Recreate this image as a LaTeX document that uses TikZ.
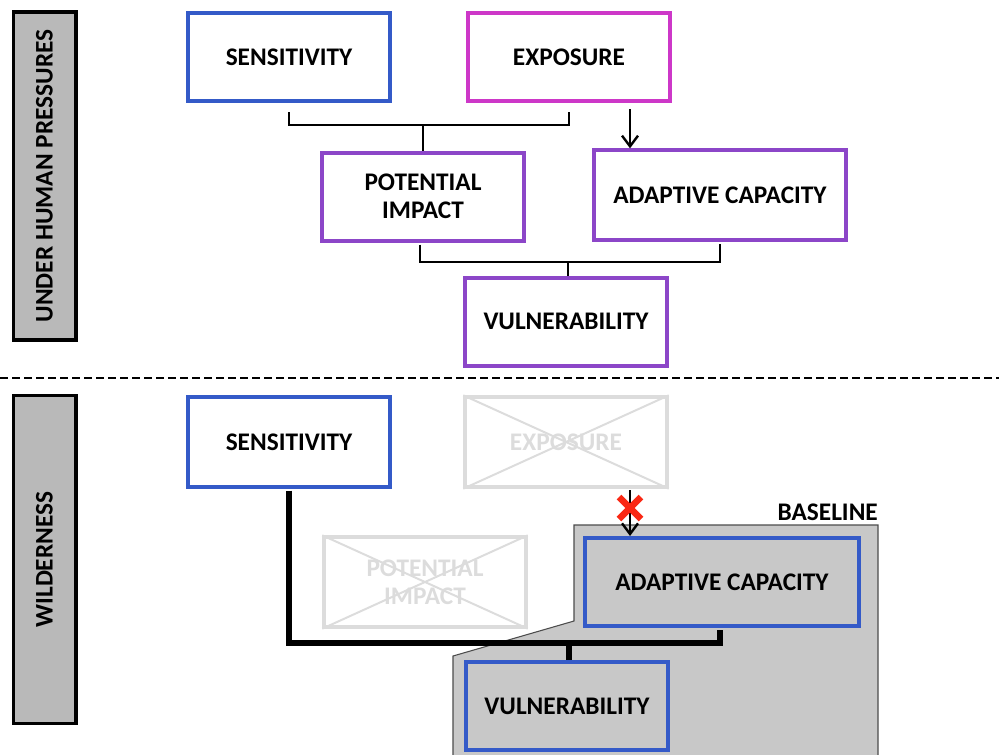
\documentclass[tikz,border=0pt]{standalone}
\usepackage{fontspec}
\setmainfont{Carlito}
\usetikzlibrary{arrows.meta,calc}
\definecolor{cblue}{RGB}{52,90,200}
\definecolor{cmag}{RGB}{205,55,200}
\definecolor{cpurp}{RGB}{140,70,200}
\definecolor{cghost}{RGB}{220,220,220}
\definecolor{cgray}{RGB}{200,200,200}
\definecolor{clab}{RGB}{185,185,185}
\definecolor{cred}{RGB}{250,40,20}
\tikzset{
  txt/.style={font=\bfseries\fontsize{19}{21}\selectfont},
  box/.style={draw, line width=3pt, rectangle, align=center, txt, inner sep=0pt},
  ghost/.style={box, draw=cghost, text=cghost},
  labbox/.style={draw=black, line width=2.5pt, fill=clab, rectangle, inner sep=0pt},
  thin/.style={line width=1.5pt, black},
  thickline/.style={line width=4pt, black},
  arr/.style={-{Straight Barb[length=8pt,width=12pt,line width=1.8pt]}, line width=1.8pt},
}
\begin{document}
\begin{tikzpicture}[x=0.75pt,y=-0.75pt]
\useasboundingbox (0,0) rectangle (999,754);
% gray baseline region
\path[fill=cgray, draw=black!70, line width=0.8pt] (574,525) -- (878,525) -- (878,756) -- (453,756) -- (453,656) -- (574,621) -- cycle;
% side labels
\node[labbox, minimum width=47pt, minimum height=246pt] (lab1) at (44.5,176) {};
\node[rotate=90, txt] (lab1t) at (lab1) {UNDER HUMAN PRESSURES};
\node[labbox, minimum width=47pt, minimum height=246pt] (lab2) at (44.5,559.5) {};
\node[rotate=90, txt] (lab2t) at (lab2) {WILDERNESS};
% top part
\node[box, draw=cblue, minimum width=152pt, minimum height=66pt] (sens1) at (289,57) {SENSITIVITY};
\node[box, draw=cmag, minimum width=151pt, minimum height=66pt] (exp1) at (569,57) {EXPOSURE};
\node[box, draw=cpurp, minimum width=151pt, minimum height=66pt] (pi1) at (423,196.5) {POTENTIAL\\IMPACT};
\node[box, draw=cpurp, minimum width=189pt, minimum height=67pt] (ac1) at (720,195) {ADAPTIVE CAPACITY};
\node[box, draw=cpurp, minimum width=151pt, minimum height=66pt] (vul1) at (566,321.5) {VULNERABILITY};
\coordinate (j1) at (424,125);
\draw[thin] ($(sens1.south)+(0,9)$) |- (j1) -| ($(exp1.south)+(0,9)$);
\draw[thin] (j1) -- (pi1.north |- j1) -- (pi1.north);
\coordinate (a1) at ($(exp1.south)+(61,6)$);
\draw[arr] (a1) -- (a1 |- ac1.north);
\coordinate (j2) at (568,262);
\draw[thin] ($(pi1.south)+(-3,2)$) |- (j2) -| ($(ac1.south)+(0,2)$);
\draw[thin] (j2) -- (j2 |- vul1.north);
% dashed separator
\draw[line width=2pt, dash pattern=on 6pt off 3pt] (0,378) -- (999,378);
% bottom part
\node[box, draw=cblue, fill=white, minimum width=152pt, minimum height=67pt] (sens2) at (289,442) {SENSITIVITY};
\node[ghost, minimum width=151pt, minimum height=67pt] (exp2) at (566,442) {EXPOSURE};
\draw[cghost, line width=1.5pt] (exp2.north west) -- (exp2.south east) (exp2.south west) -- (exp2.north east);
\node[ghost, minimum width=151pt, minimum height=67pt] (pi2) at (425,582) {POTENTIAL\\IMPACT};
\draw[cghost, line width=1.5pt] (pi2.north west) -- (pi2.south east) (pi2.south west) -- (pi2.north east);
\node[box, draw=cblue, fill=cgray, minimum width=205pt, minimum height=66pt] (ac2) at (722,582) {ADAPTIVE CAPACITY};
\node[box, draw=cblue, fill=cgray, minimum width=151pt, minimum height=66pt] (vul2) at (567,706) {VULNERABILITY};
\node[txt, anchor=south east, inner sep=0pt] (base) at (878,521) {BASELINE};
\coordinate (a2) at (630,490);
\draw[arr] (a2) -- (a2 |- ac2.north);
\coordinate (xm) at (630,508);
\draw[cred, line width=5pt] ($(xm)+(-11,-11)$) -- ($(xm)+(11,11)$) ($(xm)+(-11,11)$) -- ($(xm)+(11,-11)$);
\coordinate (j3) at (569,643);
\draw[thickline] ($(sens2.south)+(0,2)$) |- (j3) -| ($(ac2.south)+(-2,2)$);
\draw[thickline] (j3) -- (j3 |- vul2.north);
\end{tikzpicture}
\end{document}
